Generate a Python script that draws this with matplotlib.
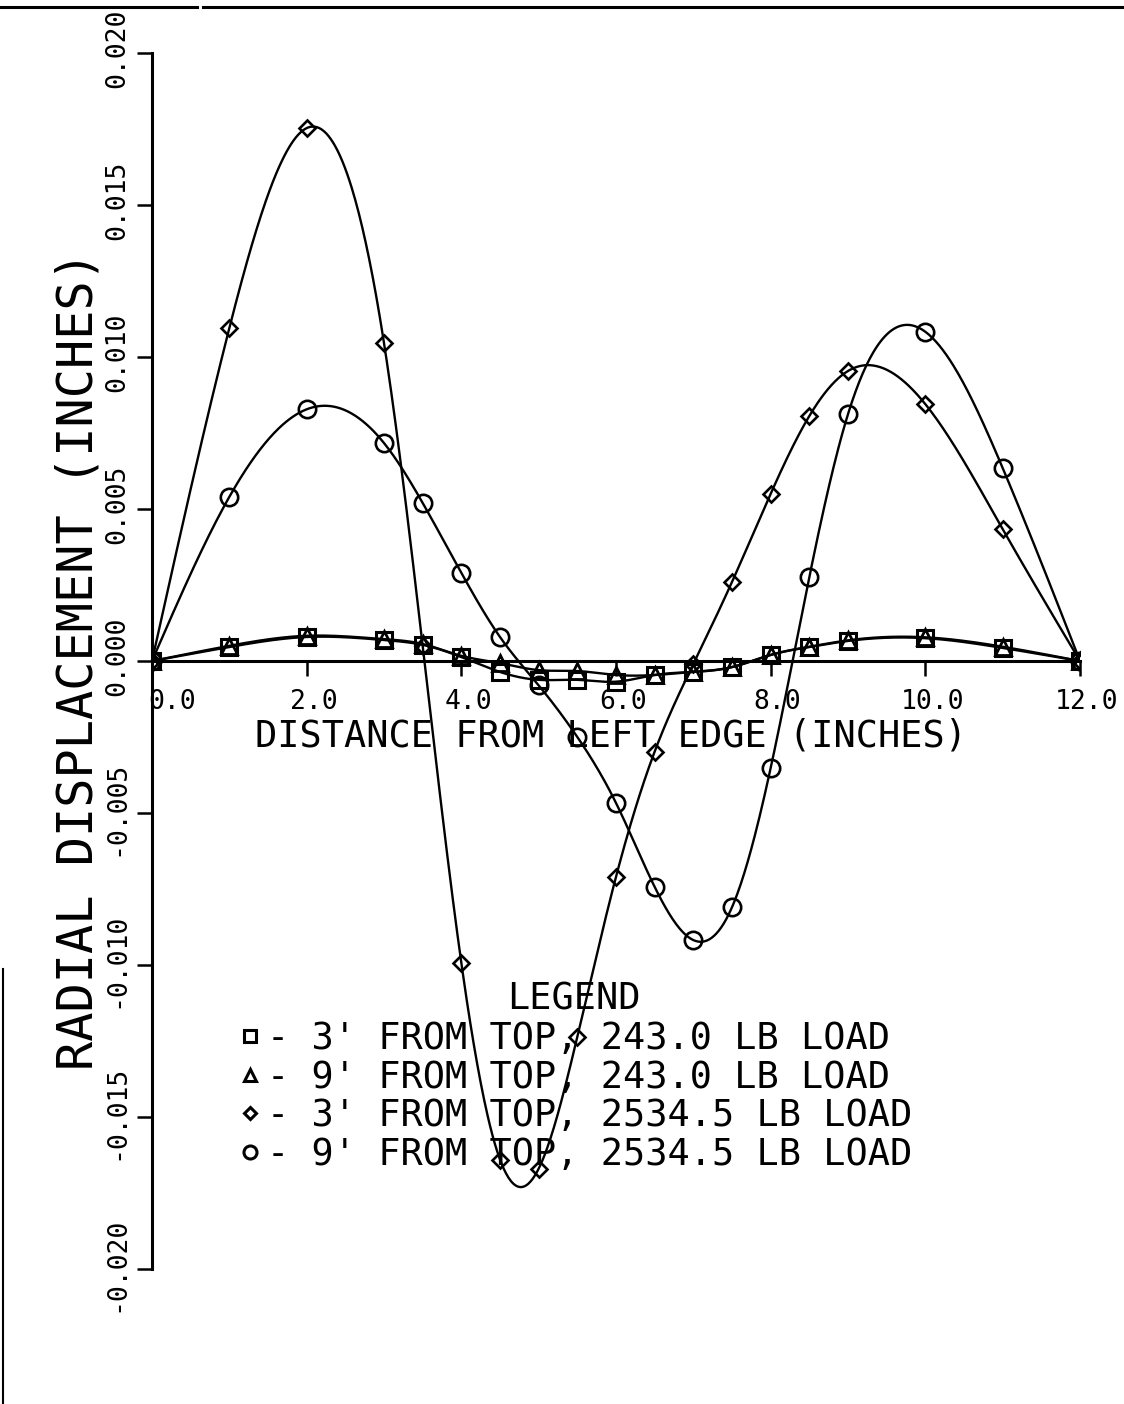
import numpy as np
import matplotlib
matplotlib.use("Agg")
import matplotlib.pyplot as plt
from matplotlib.lines import Line2D
from matplotlib.transforms import ScaledTranslation

FONT = "DejaVu Sans Mono"

# distance from left edge (inches) where displacements were computed
X = [0, 1, 2, 3, 3.5, 4, 4.5, 5, 5.5, 6, 6.5, 7, 7.5, 8, 8.5, 9, 10, 11, 12]

# radial displacement (inches)
SQ_3FT_243 = [0, 0.00046, 0.00079, 0.00069, 0.00053, 0.00013, -0.00036, -0.00062,
              -0.00062, -0.00068, -0.00046, -0.00036, -0.0002, 0.0002, 0.00046,
              0.00066, 0.00075, 0.00043, 0]
TRI_9FT_243 = [0, 0.0005, 0.00083, 0.00072, 0.00056, 0.00017, -0.00007, -0.0003,
               -0.00033, -0.00046, -0.00046, -0.00036, -0.0002, 0.0002, 0.00047,
               0.00068, 0.00078, 0.00047, 0]
DIA_3FT_2534 = [0, 0.01095, 0.01753, 0.01046, 0.0005, -0.00993, -0.0164, -0.0167,
                -0.01236, -0.0071, -0.00298, -0.0001, 0.0026, 0.0055, 0.00806,
                0.00954, 0.00845, 0.00434, 0]
CIR_9FT_2534 = [0, 0.0054, 0.00828, 0.00717, 0.0052, 0.0029, 0.00079, -0.0008,
                -0.0025, -0.00467, -0.00743, -0.00918, -0.0081, -0.00352, 0.00276,
                0.00812, 0.01083, 0.00635, 0]

LABELS = ["- 3' FROM TOP, 243.0 LB LOAD",
          "- 9' FROM TOP, 243.0 LB LOAD",
          "- 3' FROM TOP, 2534.5 LB LOAD",
          "- 9' FROM TOP, 2534.5 LB LOAD"]

XTICKS = [0, 2, 4, 6, 8, 10, 12]
YTICKS = [-0.020, -0.015, -0.010, -0.005, 0.000, 0.005, 0.010, 0.015, 0.020]


def spline(x, y, xs):
    """natural cubic spline, numpy only"""
    x = np.asarray(x, float)
    y = np.asarray(y, float)
    n = len(x)
    h = np.diff(x)
    A = np.zeros((n, n))
    b = np.zeros(n)
    A[0, 0] = A[-1, -1] = 1
    for i in range(1, n - 1):
        A[i, i - 1] = h[i - 1]
        A[i, i] = 2 * (h[i - 1] + h[i])
        A[i, i + 1] = h[i]
        b[i] = 3 * ((y[i + 1] - y[i]) / h[i] - (y[i] - y[i - 1]) / h[i - 1])
    c = np.linalg.solve(A, b)
    bb = (y[1:] - y[:-1]) / h - h * (2 * c[:-1] + c[1:]) / 3
    d = (c[1:] - c[:-1]) / (3 * h)
    k = np.clip(np.searchsorted(x, xs) - 1, 0, n - 2)
    t = xs - x[k]
    return y[k] + bb[k] * t + c[k] * t ** 2 + d[k] * t ** 3


fig = plt.figure(figsize=(11.24, 14.04), dpi=100, facecolor="white")
ax = fig.add_axes([0.13523, 0.09615, 0.82562, 0.86610])
ax.set_xlim(0, 12)
ax.set_ylim(-0.020, 0.020)

xs = np.linspace(0, 12, 800)
series = [
    (SQ_3FT_243, "s", 11, 2.2),
    (TRI_9FT_243, "^", 11, 2.0),
    (DIA_3FT_2534, "D", 8.5, 1.9),
    (CIR_9FT_2534, "o", 12.5, 1.9),
]
handles = []
for ys, mk, ms, mew in series:
    ax.plot(xs, spline(X, ys, xs), color="black", lw=1.7, zorder=3)
    ax.plot(X, ys, linestyle="none", marker=mk, ms=ms, mfc="none",
            mec="black", mew=mew, zorder=4)
    handles.append(Line2D([], [], linestyle="none", marker=mk, ms=ms * 0.75,
                          mfc="none", mec="black", mew=2.2))

# axes: y spine at x=0, x axis through y=0
for s in ("top", "right"):
    ax.spines[s].set_visible(False)
ax.spines["bottom"].set_position(("data", 0))
ax.spines["left"].set_linewidth(2.2)
ax.spines["bottom"].set_linewidth(2.2)

ax.set_xticks(XTICKS)
ax.set_xticklabels([f"{v:.1f}" for v in XTICKS], family=FONT, fontsize=19)
ax.set_yticks(YTICKS)
ax.set_yticklabels([f"{v:.3f}" for v in YTICKS], family=FONT, fontsize=19)
ax.tick_params(axis="both", direction="out", length=11, width=1.8)
ax.tick_params(axis="x", pad=9)
ax.tick_params(axis="y", pad=5, labelrotation=90)

for i, lab in enumerate(ax.get_xticklabels()):
    dx = 20 if i == 0 else 7
    lab.set_transform(lab.get_transform() + ScaledTranslation(dx / 100, 0, fig.dpi_scale_trans))
for lab in ax.get_yticklabels():
    lab.set_verticalalignment("center")
    lab.set_transform(lab.get_transform() + ScaledTranslation(0, 5 / 100, fig.dpi_scale_trans))

ax.set_xlabel("DISTANCE FROM LEFT EDGE (INCHES)", family=FONT, fontsize=26.6, va="center")
ax.xaxis.set_label_coords(0.4946, 0.4383)
ax.set_ylabel("RADIAL DISPLACEMENT (INCHES)", family=FONT, fontsize=35, va="center")
ax.yaxis.set_label_coords(-0.0797, 0.5008)

leg = ax.legend(handles, LABELS, title="LEGEND", frameon=False,
                loc="upper left", bbox_to_anchor=(0.09, 0.237),
                prop={"family": FONT, "size": 26.6},
                handlelength=0.8, handletextpad=0.05, labelspacing=0.05,
                borderpad=0, borderaxespad=0)
leg.get_title().set_family(FONT)
leg.get_title().set_fontsize(26.6)

# scanned page border remnants
fig.add_artist(Line2D([0, 0.175], [0.995, 0.995], color="black", lw=2.2))
fig.add_artist(Line2D([0.181, 1.0], [0.995, 0.995], color="black", lw=2.2))
fig.add_artist(Line2D([0.003, 0.003], [0.0, 0.31], color="black", lw=1.5))

fig.savefig("out.png", dpi=100, facecolor="white")
